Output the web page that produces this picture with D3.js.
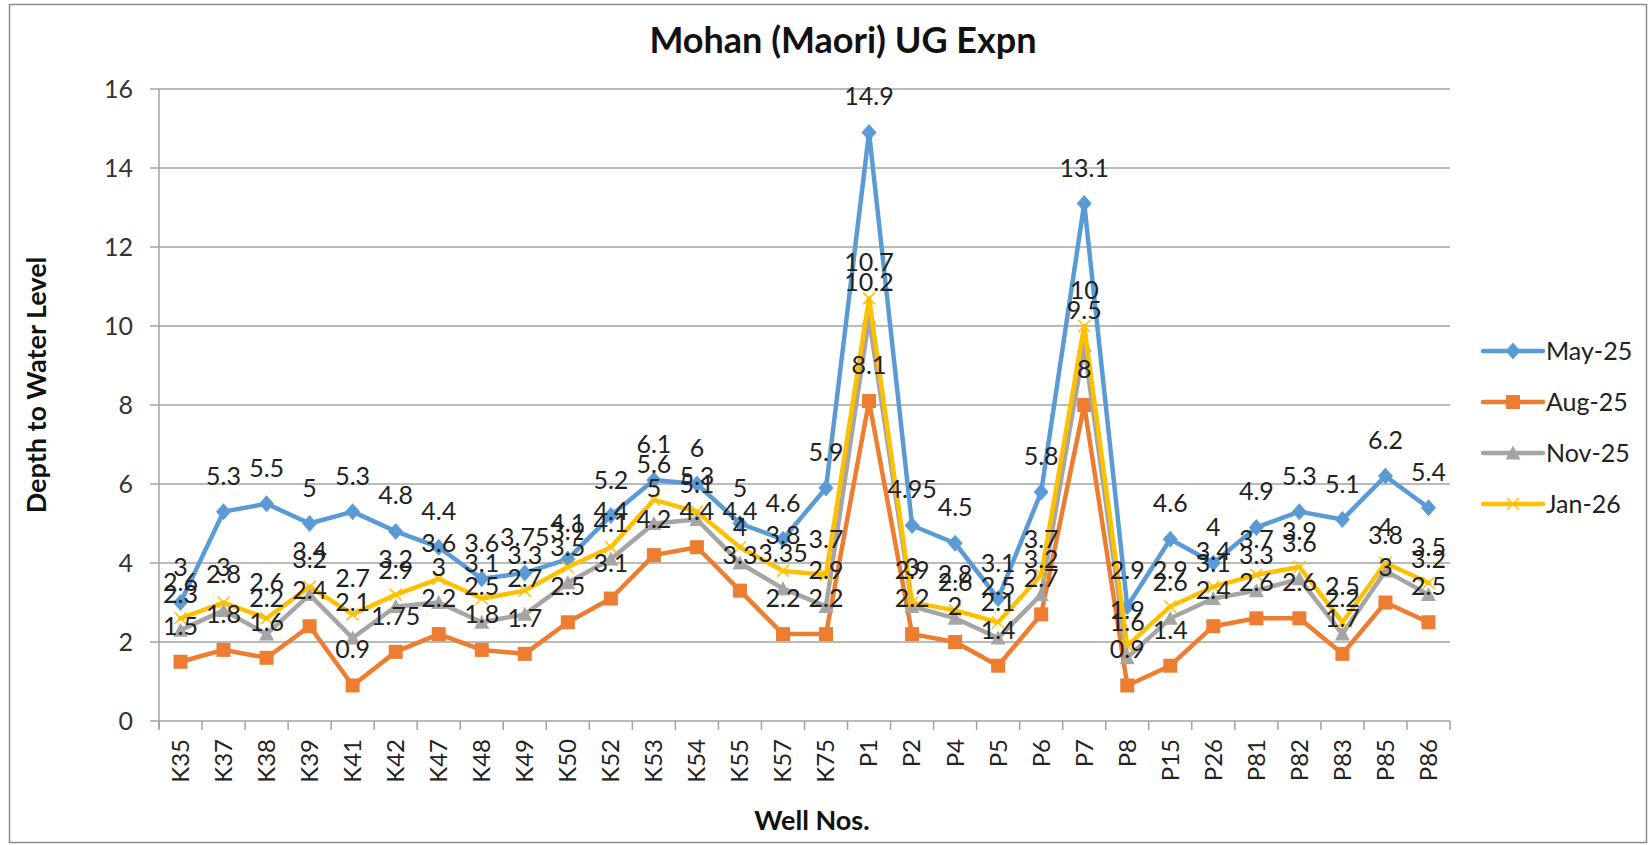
<!DOCTYPE html>
<html>
<head>
<meta charset="utf-8">
<script src="https://cdn.jsdelivr.net/npm/d3@7"></script>
<style>
  body { margin: 0; background: #fff; }
  text { font-family: Lato, "Open Sans", sans-serif; }
</style>
</head>
<body>
<div id="graph"></div>
<script>
var wells = ["K35","K37","K38","K39","K41","K42","K47","K48","K49","K50","K52","K53","K54","K55","K57","K75",
             "P1","P2","P4","P5","P6","P7","P8","P15","P26","P81","P82","P83","P85","P86"];
var may25 = [3,5.3,5.5,5,5.3,4.8,4.4,3.6,3.75,4.1,5.2,6.1,6,5,4.6,5.9,14.9,4.95,4.5,3.1,5.8,13.1,2.9,4.6,4,4.9,5.3,5.1,6.2,5.4];
var aug25 = [1.5,1.8,1.6,2.4,0.9,1.75,2.2,1.8,1.7,2.5,3.1,4.2,4.4,3.3,2.2,2.2,8.1,2.2,2,1.4,2.7,8,0.9,1.4,2.4,2.6,2.6,1.7,3,2.5];
var nov25 = [2.3,2.8,2.2,3.2,2.1,2.9,3,2.5,2.7,3.5,4.1,5,5.1,4,3.35,2.9,10.2,2.9,2.6,2.1,3.2,9.5,1.6,2.6,3.1,3.3,3.6,2.2,3.8,3.2];
var jan26 = [2.6,3,2.6,3.4,2.7,3.2,3.6,3.1,3.3,3.9,4.4,5.6,5.3,4.4,3.8,3.7,10.7,3,2.8,2.5,3.7,10,1.9,2.9,3.4,3.7,3.9,2.5,4,3.5];
var seriesNames = ["May-25","Aug-25","Nov-25","Jan-26"];
var yTicks = [0,2,4,6,8,10,12,14,16];

var series = [
  { name: seriesNames[0], values: may25, color: "#5B9BD5", marker: "diamond" },
  { name: seriesNames[1], values: aug25, color: "#ED7D31", marker: "square" },
  { name: seriesNames[2], values: nov25, color: "#A5A5A5", marker: "triangle" },
  { name: seriesNames[3], values: jan26, color: "#FFC000", marker: "cross" }
];

var width = 1650, height = 845;
var plotLeft = 159, plotRight = 1450, plotTop = 89, plotBottom = 721;

var svg = d3.select("#graph").append("svg")
            .attr("width", width)
            .attr("height", height);

// outer chart border
svg.append("rect")
   .attr("x", 9.5).attr("y", 4.5)
   .attr("width", 1637).attr("height", 838)
   .attr("fill", "#fff")
   .attr("stroke", "#8c8c8c")
   .attr("stroke-width", 1.5);

var x = d3.scaleBand().domain(wells).range([plotLeft, plotRight]).padding(0);
var y = d3.scaleLinear().domain([0, 16]).range([plotBottom, plotTop]);
function cx(d) { return x(d) + x.bandwidth() / 2; }

// gridlines + y tick labels
var grid = svg.append("g");
grid.selectAll("line").data(yTicks).enter().append("line")
    .attr("x1", plotLeft - 9).attr("x2", plotRight)
    .attr("y1", function(d) { return y(d); })
    .attr("y2", function(d) { return y(d); })
    .attr("stroke", "#a3a3a3")
    .attr("stroke-width", 1.5);
grid.selectAll("text").data(yTicks).enter().append("text")
    .attr("x", 133)
    .attr("y", function(d) { return y(d); })
    .attr("dy", "0.35em")
    .attr("text-anchor", "end")
    .attr("font-size", 25)
    .attr("fill", "#333")
    .text(function(d) { return d; });

// y axis line
svg.append("line")
   .attr("x1", plotLeft).attr("x2", plotLeft)
   .attr("y1", plotTop).attr("y2", plotBottom + 8)
   .attr("stroke", "#a3a3a3").attr("stroke-width", 1.5);

// x axis ticks at category boundaries
var bounds = wells.map(function(d) { return x(d); }).concat([plotRight]);
svg.append("g").selectAll("line").data(bounds).enter().append("line")
   .attr("x1", function(d) { return d; })
   .attr("x2", function(d) { return d; })
   .attr("y1", plotBottom).attr("y2", plotBottom + 9)
   .attr("stroke", "#a3a3a3").attr("stroke-width", 1.5);

// x tick labels, rotated
svg.append("g").selectAll("text").data(wells).enter().append("text")
   .attr("transform", function(d) { return "translate(" + cx(d) + "," + 739 + ") rotate(-90)"; })
   .attr("dy", "0.35em")
   .attr("text-anchor", "end")
   .attr("font-size", 24)
   .attr("fill", "#222")
   .text(function(d) { return d; });

// series lines
var line = d3.line()
             .x(function(d, i) { return cx(wells[i]); })
             .y(function(d) { return y(d); });

function drawMarker(g, type, color) {
  if (type == "diamond") {
    g.append("path").attr("d", "M0,-8.5L7.5,0L0,8.5L-7.5,0Z").attr("fill", color);
  } else if (type == "square") {
    g.append("rect").attr("x", -7).attr("y", -7).attr("width", 14).attr("height", 14).attr("fill", color);
  } else if (type == "triangle") {
    g.append("path").attr("d", "M0,-7.5L7.5,6.5L-7.5,6.5Z").attr("fill", color);
  } else {
    g.append("path").attr("d", "M-6,-6L6,6M-6,6L6,-6").attr("stroke", color).attr("stroke-width", 1.5).attr("fill", "none");
  }
}

series.forEach(function(s) {
  var g = svg.append("g");
  g.append("path")
   .attr("d", line(s.values))
   .attr("fill", "none")
   .attr("stroke", s.color)
   .attr("stroke-width", 4.5)
   .attr("stroke-linejoin", "round")
   .attr("stroke-linecap", "round");
  g.selectAll("g.m").data(s.values).enter().append("g")
   .attr("transform", function(d, i) { return "translate(" + cx(wells[i]) + "," + y(d) + ")"; })
   .each(function() { drawMarker(d3.select(this), s.marker, s.color); });
});

// data labels
series.forEach(function(s) {
  svg.append("g").selectAll("text").data(s.values).enter().append("text")
     .attr("x", function(d, i) { return cx(wells[i]); })
     .attr("y", function(d) { return y(d) - 27; })
     .attr("text-anchor", "middle")
     .attr("font-size", 25)
     .attr("fill", "#222")
     .text(function(d) { return d; });
});

// legend
var legend = svg.append("g");
series.forEach(function(s, i) {
  var ly = 351 + i * 51;
  var lg = legend.append("g").attr("transform", "translate(1483," + ly + ")");
  lg.append("line").attr("x1", 0).attr("x2", 60).attr("y1", 0).attr("y2", 0)
    .attr("stroke", s.color).attr("stroke-width", 4.5).attr("stroke-linecap", "round");
  drawMarker(lg.append("g").attr("transform", "translate(30,0)"), s.marker, s.color);
  lg.append("text").attr("x", 63).attr("dy", "0.35em")
    .attr("font-size", 25).attr("fill", "#222")
    .text(s.name);
});

// titles
svg.append("text")
   .attr("x", 843).attr("y", 53)
   .attr("text-anchor", "middle")
   .attr("font-size", 36).attr("font-weight", "bold")
   .attr("fill", "#111")
   .text("Mohan (Maori) UG Expn");

svg.append("text")
   .attr("transform", "translate(37,385) rotate(-90)")
   .attr("dy", "0.35em")
   .attr("text-anchor", "middle")
   .attr("font-size", 27).attr("font-weight", "bold")
   .attr("fill", "#111")
   .text("Depth to Water Level");

svg.append("text")
   .attr("x", 812).attr("y", 830)
   .attr("text-anchor", "middle")
   .attr("font-size", 27).attr("font-weight", "bold")
   .attr("fill", "#111")
   .text("Well Nos.");
</script>
</body>
</html>
